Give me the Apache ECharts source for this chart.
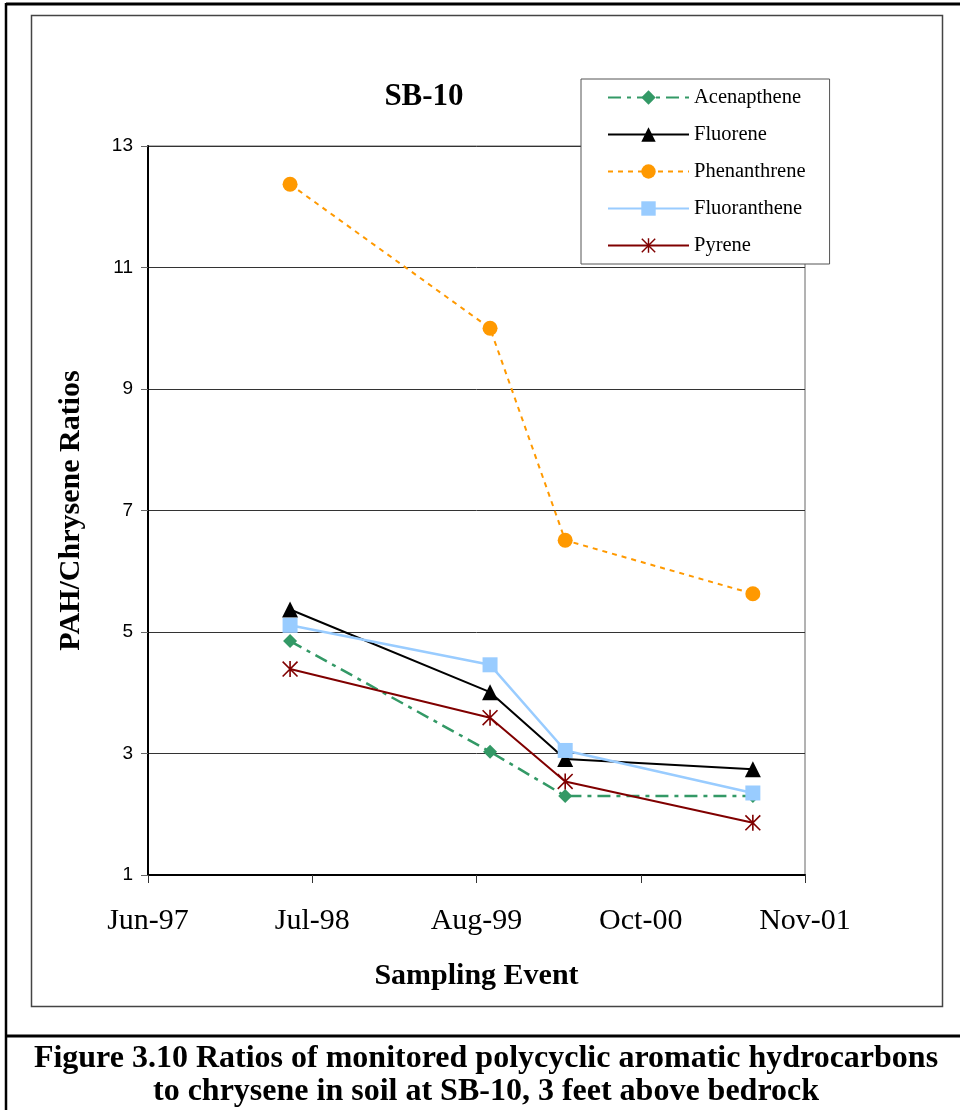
<!DOCTYPE html>
<html>
<head>
<meta charset="utf-8">
<script src="https://cdn.jsdelivr.net/npm/echarts@6/dist/echarts.min.js"></script>
<style>
  body { margin: 0; background: #fff; }
  #chart { width: 960px; height: 1110px; }
</style>
</head>
<body>
<div id="chart"></div>
<script>
  // sampling dates, and the axis start date (ticks every 400 days from it)
  var axisStart = '1997-06-20';
  var sampleDates = ['1998-06-01', '1999-10-01', '2000-04-01', '2001-07-02'];
  var tickStepDays = 400;
  var tickCount = 4;

  var seriesNames = ['Acenapthene', 'Fluorene', 'Phenanthrene', 'Fluoranthene', 'Pyrene'];
  var acenapthene = [4.85, 3.03, 2.30, 2.30];
  var fluorene = [5.37, 4.01, 2.91, 2.74];
  var phenanthrene = [12.37, 10.0, 6.51, 5.63];
  var fluoranthene = [5.11, 4.46, 3.05, 2.35];
  var pyrene = [4.39, 3.59, 2.54, 1.86];

  var monthNames = ['Jan', 'Feb', 'Mar', 'Apr', 'May', 'Jun', 'Jul', 'Aug', 'Sep', 'Oct', 'Nov', 'Dec'];
  var DAY = 86400000;
  var startMs = Date.parse(axisStart + 'T00:00:00Z');

  function dayOffset(s) {
    return Math.round((Date.parse(s + 'T00:00:00Z') - startMs) / DAY);
  }
  function pairs(vals) {
    return vals.map(function (v, i) { return [dayOffset(sampleDates[i]), v]; });
  }
  function dateLabel(v) {
    var d = new Date(startMs + v * DAY);
    return monthNames[d.getUTCMonth()] + '-' + String(d.getUTCFullYear()).slice(2);
  }

  // excel style star marker: X plus a vertical bar
  var starPath = 'path://M9,0 L11,0 L11,20 L9,20 Z M0,1.4 L1.4,0 L20,18.6 L18.6,20 Z M18.6,0 L20,1.4 L1.4,20 L0,18.6 Z';

  var serif = '"Liberation Serif", "Times New Roman", serif';
  var sans = '"Liberation Sans", Arial, sans-serif';

  var chart = echarts.init(document.getElementById('chart'));

  chart.setOption({
    animation: false,
    backgroundColor: '#fff',
    graphic: [
      // outer page frame
      { type: 'line', shape: { x1: 6, y1: 4, x2: 960, y2: 4 }, style: { stroke: '#000', lineWidth: 3 }, z: 1 },
      { type: 'line', shape: { x1: 6, y1: 3, x2: 6, y2: 1110 }, style: { stroke: '#000', lineWidth: 2.5 }, z: 1 },
      { type: 'line', shape: { x1: 6, y1: 1036, x2: 960, y2: 1036 }, style: { stroke: '#000', lineWidth: 3 }, z: 1 },
      // chart area box
      { type: 'rect', shape: { x: 31.5, y: 15.5, width: 911, height: 991 }, style: { fill: 'none', stroke: '#444', lineWidth: 1.5 }, z: 1 },
      // title
      { type: 'text', x: 424, y: 97, style: { text: 'SB-10', font: 'bold 31px ' + serif, fill: '#000', align: 'center', verticalAlign: 'middle' }, z: 5 },
      // caption
      { type: 'text', x: 486, y: 1059, style: { text: 'Figure 3.10 Ratios of monitored polycyclic aromatic hydrocarbons', font: 'bold 32px ' + serif, fill: '#000', align: 'center', verticalAlign: 'middle' }, z: 5 },
      { type: 'text', x: 486, y: 1092, style: { text: 'to chrysene in soil at SB-10, 3 feet above bedrock', font: 'bold 32px ' + serif, fill: '#000', align: 'center', verticalAlign: 'middle' }, z: 5 }
    ],
    legend: {
      orient: 'vertical',
      left: 581,
      top: 79,
      padding: [8, 24, 8, 26],
      itemWidth: 81,
      itemHeight: 18,
      itemGap: 16,
      backgroundColor: '#fff',
      borderColor: '#555',
      borderWidth: 1,
      textStyle: { fontFamily: serif, fontSize: 20.5, color: '#000' },
      data: seriesNames
    },
    grid: {
      left: 148,
      top: 146,
      width: 657,
      height: 729,
      show: true,
      borderColor: '#666',
      borderWidth: 1,
      backgroundColor: 'transparent'
    },
    xAxis: {
      type: 'value',
      min: 0,
      max: tickStepDays * tickCount,
      interval: tickStepDays,
      name: 'Sampling Event',
      nameLocation: 'middle',
      nameGap: 86,
      nameTextStyle: { fontFamily: serif, fontSize: 30, fontWeight: 'bold', color: '#000' },
      axisLine: { show: true, onZero: false, lineStyle: { color: '#000', width: 2 } },
      axisTick: { show: true, length: 8, lineStyle: { color: '#333' } },
      splitLine: { show: false },
      axisLabel: { margin: 31, fontFamily: serif, fontSize: 30, color: '#000', formatter: dateLabel }
    },
    yAxis: {
      type: 'value',
      min: 1,
      max: 13,
      interval: 2,
      name: 'PAH/Chrysene Ratios',
      nameLocation: 'middle',
      nameRotate: 90,
      nameGap: 62,
      nameTextStyle: { fontFamily: serif, fontSize: 30, fontWeight: 'bold', color: '#000' },
      axisLine: { show: true, lineStyle: { color: '#000', width: 2 } },
      axisTick: { show: true, length: 7, lineStyle: { color: '#666' } },
      splitLine: { show: true, lineStyle: { color: '#333', width: 1 } },
      axisLabel: { margin: 15, fontFamily: sans, fontSize: 19, color: '#000' }
    },
    series: [
      {
        name: 'Acenapthene', type: 'line', data: pairs(acenapthene),
        symbol: 'diamond', symbolSize: 14,
        itemStyle: { color: '#339966' },
        lineStyle: { color: '#339966', width: 2.5, type: [13, 6, 4, 6] }
      },
      {
        name: 'Fluorene', type: 'line', data: pairs(fluorene),
        symbol: 'triangle', symbolSize: 16,
        itemStyle: { color: '#000' },
        lineStyle: { color: '#000', width: 2 }
      },
      {
        name: 'Phenanthrene', type: 'line', data: pairs(phenanthrene),
        symbol: 'circle', symbolSize: 15,
        itemStyle: { color: '#ff9900' },
        lineStyle: { color: '#ff9900', width: 2, type: [5, 5] }
      },
      {
        name: 'Fluoranthene', type: 'line', data: pairs(fluoranthene),
        symbol: 'rect', symbolSize: 15,
        itemStyle: { color: '#99ccff' },
        lineStyle: { color: '#99ccff', width: 2.5 }
      },
      {
        name: 'Pyrene', type: 'line', data: pairs(pyrene),
        symbol: starPath, symbolSize: 16,
        itemStyle: { color: '#800000' },
        lineStyle: { color: '#800000', width: 2 }
      }
    ]
  });
</script>
</body>
</html>
